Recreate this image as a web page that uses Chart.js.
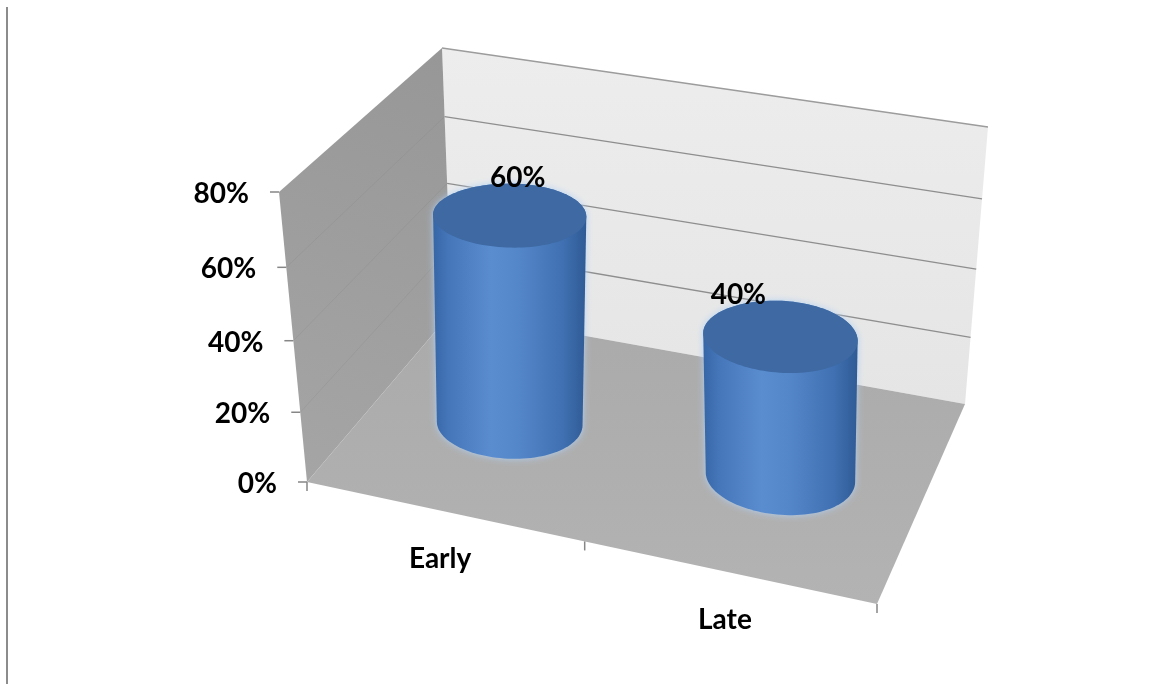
<!DOCTYPE html>
<html>
<head>
<meta charset="utf-8">
<script src="https://cdn.jsdelivr.net/npm/chart.js@4.4.1/dist/chart.umd.min.js"></script>
<style>
  html, body { margin: 0; padding: 0; background: #ffffff; }
  #wrap { width: 1175px; height: 684px; position: relative; }
</style>
</head>
<body>
<div id="wrap"><canvas id="c" width="1175" height="684"></canvas></div>
<script>
// ---- data ----
const categories = ['Early', 'Late'];
const shares = [0.60, 0.40];
const yTicks = [0, 0.2, 0.4, 0.6, 0.8];
const yMax = 0.8;

// ---- 3D frame layout (pixel corners of the floor and ceiling planes) ----
const FRAME = {
  bottom: { fl: [307, 482], fr: [877, 604], bl: [452, 312], br: [965, 404] },
  top:    { fl: [279, 192], fr: [882, 301], bl: [442, 48],  br: [988, 127] }
};
const PERSP_U = 0.95;          // foreshortening across the categories
const PERSP_F = 0.95;          // foreshortening up the value axis
const CYL = { ru: 0.13, rw: 0.187, wc: 0.5, steps: 120 };
const LABEL_DX = [8, -42];     // horizontal nudge of the value labels
const FONT = 'bold 28px Lato, "Liberation Sans", sans-serif';

function lerp(p, q, t) { return [p[0] + (q[0] - p[0]) * t, p[1] + (q[1] - p[1]) * t]; }
function persp(t, a) { return a * t / (1 + (a - 1) * t); }

// u: across categories (0..1), f: value fraction (0..1), w: depth (0 front .. 1 back)
function project(u, f, w) {
  const uu = persp(u, PERSP_U), ff = persp(f, PERSP_F);
  const B = FRAME.bottom, T = FRAME.top;
  const b = lerp(lerp(B.fl, B.fr, uu), lerp(B.bl, B.br, uu), w);
  const t = lerp(lerp(T.fl, T.fr, uu), lerp(T.bl, T.br, uu), w);
  return lerp(b, t, ff);
}

function poly(ctx, pts) {
  ctx.beginPath();
  pts.forEach((p, i) => i ? ctx.lineTo(p[0], p[1]) : ctx.moveTo(p[0], p[1]));
  ctx.closePath();
}
function seg(ctx, a, b) {
  ctx.beginPath(); ctx.moveTo(a[0], a[1]); ctx.lineTo(b[0], b[1]); ctx.stroke();
}
function hull(points) {
  const p = points.slice().sort((a, b) => a[0] - b[0] || a[1] - b[1]);
  const cross = (o, a, b) => (a[0] - o[0]) * (b[1] - o[1]) - (a[1] - o[1]) * (b[0] - o[0]);
  const lower = [], upper = [];
  for (const q of p) { while (lower.length >= 2 && cross(lower[lower.length - 2], lower[lower.length - 1], q) <= 0) lower.pop(); lower.push(q); }
  for (let i = p.length - 1; i >= 0; i--) { const q = p[i]; while (upper.length >= 2 && cross(upper[upper.length - 2], upper[upper.length - 1], q) <= 0) upper.pop(); upper.push(q); }
  upper.pop(); lower.pop();
  return lower.concat(upper);
}

function fracOf(chart, v) {
  const ys = chart.scales.y;
  const y0 = ys.getPixelForValue(0), y1 = ys.getPixelForValue(yMax);
  return (y0 - ys.getPixelForValue(v)) / (y0 - y1);
}
function uOf(chart, i) {
  const xs = chart.scales.x, a = chart.chartArea;
  return (xs.getPixelForValue(i) - a.left) / (a.right - a.left);
}

const frame3d = {
  id: 'frame3d',
  beforeDatasetsDraw(chart) {
    const ctx = chart.ctx;
    ctx.save();

    // outer border at the left
    ctx.strokeStyle = '#8c8c8c'; ctx.lineWidth = 2;
    seg(ctx, [7, 7], [7, 684]);

    // back wall
    const bw = [project(0, 0, 1), project(1, 0, 1), project(1, 1, 1), project(0, 1, 1)];
    let g = ctx.createLinearGradient(0, bw[3][1], 0, bw[1][1]);
    g.addColorStop(0, '#ededed'); g.addColorStop(1, '#e5e5e5');
    poly(ctx, bw); ctx.fillStyle = g; ctx.fill();

    // side wall
    const lw = [project(0, 0, 0), project(0, 0, 1), project(0, 1, 1), project(0, 1, 0)];
    g = ctx.createLinearGradient(lw[2][0], lw[2][1], lw[0][0], lw[0][1]);
    g.addColorStop(0, '#979797'); g.addColorStop(1, '#a5a5a5');
    poly(ctx, lw); ctx.fillStyle = g; ctx.fill();

    // floor
    const fl = [project(0, 0, 0), project(1, 0, 0), project(1, 0, 1), project(0, 0, 1)];
    g = ctx.createLinearGradient(0, fl[1][1], 0, fl[3][1]);
    g.addColorStop(0, '#b3b3b3'); g.addColorStop(1, '#aaaaaa');
    poly(ctx, fl); ctx.fillStyle = g; ctx.fill();

    // gridlines
    yTicks.forEach(v => {
      const f = fracOf(chart, v);
      if (f <= 0) return;
      ctx.lineWidth = 1.3;
      ctx.strokeStyle = f >= 1 ? '#9c9c9c' : '#8e8e8e';
      seg(ctx, project(0, f, 1), project(1, f, 1));
      if (f < 1) {
        ctx.strokeStyle = 'rgba(125,125,125,0.2)'; ctx.lineWidth = 1;
        seg(ctx, project(0, f, 0), project(0, f, 1));
      }
    });

    // value axis ticks and labels along the front edge of the side wall
    ctx.strokeStyle = '#868686'; ctx.lineWidth = 1.5;
    ctx.fillStyle = '#000000'; ctx.font = FONT;
    ctx.textAlign = 'right'; ctx.textBaseline = 'middle';
    yTicks.forEach(v => {
      const p = project(0, fracOf(chart, v), 0);
      seg(ctx, [p[0] - 9, p[1]], p);
      ctx.fillText(Math.round(v * 100) + '%', p[0] - 30, p[1] + 2);
    });

    // category ticks and labels along the front edge of the floor
    const n = categories.length;
    for (let k = 0; k <= n; k++) {
      const p = project(k / n, 0, 0);
      seg(ctx, p, [p[0], p[1] + 9]);
    }
    ctx.textAlign = 'center';
    categories.forEach((c, i) => {
      const p = project(uOf(chart, i), 0, 0);
      ctx.fillText(c, p[0] - 4, p[1] + 48);
    });
    ctx.restore();
  },
  afterDatasetsDraw(chart) {
    const ctx = chart.ctx;
    ctx.save();
    shares.forEach((v, i) => {
      const uc = uOf(chart, i), f = fracOf(chart, v);
      const bc = project(uc, 0, CYL.wc);
      const tc0 = project(uc, f, CYL.wc);
      const shift = bc[0] - tc0[0];          // keep the cylinder axis upright
      const tc = [tc0[0] + shift, tc0[1]];
      const bot = [], top = [];
      for (let k = 0; k < CYL.steps; k++) {
        const th = 2 * Math.PI * k / CYL.steps;
        const u = uc + CYL.ru * Math.cos(th), w = CYL.wc + CYL.rw * Math.sin(th);
        bot.push(project(u, 0, w));
        const t = project(u, f, w);
        top.push([t[0] + shift, t[1]]);
      }
      const h = hull(bot.concat(top));
      const xs = h.map(p => p[0]);
      const x0 = Math.min(...xs), x1 = Math.max(...xs);
      const ymid = (Math.min(...h.map(p => p[1])) + Math.max(...h.map(p => p[1]))) / 2;

      // body
      const g = ctx.createLinearGradient(x0, ymid, x1, ymid);
      g.addColorStop(0.00, '#3766a6');
      g.addColorStop(0.10, '#4576b9');
      g.addColorStop(0.38, '#5a8dd0');
      g.addColorStop(0.55, '#5487ca');
      g.addColorStop(0.85, '#4070b1');
      g.addColorStop(1.00, '#2f5a95');
      ctx.shadowColor = 'rgba(175,208,245,0.95)';
      ctx.shadowBlur = 7;
      poly(ctx, h); ctx.fillStyle = g; ctx.fill();
      ctx.shadowBlur = 0; ctx.shadowColor = 'transparent';

      // cap
      poly(ctx, top); ctx.fillStyle = '#3e69a2'; ctx.fill();

      // value label above the cap
      const topY = Math.min(...top.map(p => p[1]));
      ctx.fillStyle = '#000000'; ctx.font = FONT;
      ctx.textAlign = 'center'; ctx.textBaseline = 'alphabetic';
      ctx.fillText(Math.round(v * 100) + '%', tc[0] + LABEL_DX[i], topY + 3);
    });
    ctx.restore();
  }
};

new Chart(document.getElementById('c'), {
  type: 'bar',
  data: {
    labels: categories,
    datasets: [{ label: 'Share', data: shares, backgroundColor: 'rgba(0,0,0,0)', borderWidth: 0 }]
  },
  options: {
    responsive: false,
    animation: false,
    layout: { padding: { left: 307, right: 298, top: 192, bottom: 202 } },
    plugins: { legend: { display: false }, tooltip: { enabled: false } },
    scales: {
      x: { display: false },
      y: { display: false, min: 0, max: yMax, ticks: { stepSize: 0.2 } }
    }
  },
  plugins: [frame3d]
});
</script>
</body>
</html>
